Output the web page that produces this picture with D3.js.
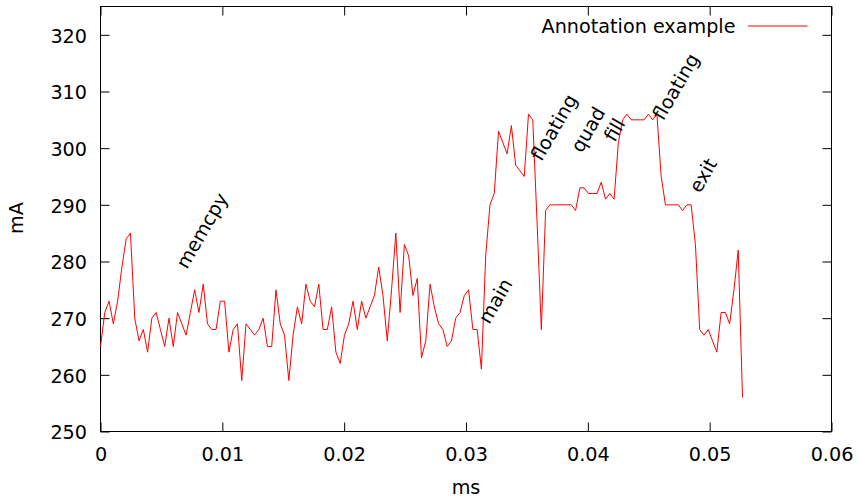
<!DOCTYPE html>
<html>
<head>
<meta charset="utf-8">
<script src="https://cdn.jsdelivr.net/npm/d3@7"></script>
<style>
  html, body { margin: 0; padding: 0; background: #fff; }
  text { font-family: "DejaVu Sans", sans-serif; fill: #000; }
</style>
</head>
<body>
<svg id="chart" width="859" height="500"></svg>
<script>
// ---- Data ----
const SAMPLE_PERIOD_MS = 0.0003513;   // regular sampling interval (ms)
const currentMA = [
  265, 271, 273, 269, 273, 279, 284, 285, 270, 266,
  268, 264, 270, 271, 268, 265, 270, 265, 271, 269,
  267, 271, 275, 271, 276, 269, 268, 268, 273, 273,
  264, 268, 269, 259, 269, 268, 267, 268, 270, 265,
  265, 275, 269, 267, 259, 267, 272, 269, 276, 273,
  272, 276, 268, 268, 272, 264, 262, 267, 269, 273,
  268, 273, 270, 272, 274, 279, 274, 266, 275, 285,
  271, 283, 281, 274, 277, 263, 266, 276, 272, 269,
  268, 265, 266, 270, 271, 274, 275, 268, 268, 261,
  281, 290, 292, 303, 301, 299, 304, 297, 296, 295,
  306, 305, 287, 268, 289, 290, 290, 290, 290, 290,
  290, 289, 293, 293, 292, 292, 292, 294, 291, 292,
  291, 301, 305, 306, 305, 305, 305, 305, 306, 305,
  306, 295, 290, 290, 290, 290, 289, 290, 290, 283,
  268, 267, 268, 266, 264, 271, 271, 269, 275, 282,
  256
];
const annotationText = ["memcpy", "main", "floating", "quad", "fill", "floating", "exit"];
const annotationX    = [0.0071, 0.0319, 0.0362, 0.0395, 0.0422, 0.0462, 0.0492];
const annotationY    = [278.5, 268.8, 297.5, 299.0, 300.9, 304.7, 291.9];
const xTicks = [0, 0.01, 0.02, 0.03, 0.04, 0.05, 0.06];
const yTicks = [250, 260, 270, 280, 290, 300, 310, 320];
const seriesName = "Annotation example";

// ---- Layout ----
const svg = d3.select("#chart");
const plotL = 100.5, plotR = 831.5, plotT = 6.5, plotB = 431.5;
const x = d3.scaleLinear().domain([0, 0.06]).range([plotL, plotR]);
const y = d3.scaleLinear().domain([250, 325]).range([plotB, plotT]);
const FS = 19.2;
const tickLen = 9;

const points = currentMA.map((v, i) => [i * SAMPLE_PERIOD_MS, v]);

// axes (gnuplot style: inward ticks, mirrored)
const fmtX = d => d === 0 ? "0" : d3.format(".2f")(d);
const axB = svg.append("g").attr("transform", `translate(0,${plotB})`)
  .call(d3.axisBottom(x).tickValues(xTicks).tickSizeInner(-tickLen).tickSizeOuter(0).tickPadding(0).tickFormat(fmtX));
const axT = svg.append("g").attr("transform", `translate(0,${plotT})`)
  .call(d3.axisTop(x).tickValues(xTicks).tickSizeInner(-tickLen).tickSizeOuter(0).tickFormat(""));
const axL = svg.append("g").attr("transform", `translate(${plotL},0)`)
  .call(d3.axisLeft(y).tickValues(yTicks).tickSizeInner(-tickLen).tickSizeOuter(0).tickPadding(0).tickFormat(d3.format("d")));
const axR = svg.append("g").attr("transform", `translate(${plotR},0)`)
  .call(d3.axisRight(y).tickValues(yTicks).tickSizeInner(-tickLen).tickSizeOuter(0).tickFormat(""));

[axB, axT, axL, axR].forEach(g => {
  g.select(".domain").remove();
  g.selectAll(".tick line").attr("stroke", "#000").attr("stroke-width", 1);
  g.selectAll("text").attr("font-size", FS).attr("font-family", "DejaVu Sans").attr("fill", "#000");
});
axB.selectAll(".tick text").attr("dy", null).attr("y", 29.8);
axL.selectAll(".tick text").attr("dy", null).attr("x", -13.5).attr("y", 7.2);

// frame
svg.append("rect").attr("x", plotL).attr("y", plotT)
  .attr("width", plotR - plotL).attr("height", plotB - plotT)
  .attr("fill", "none").attr("stroke", "#000").attr("stroke-width", 1);

// axis titles
svg.append("text").attr("x", 466).attr("y", 494).attr("text-anchor", "middle")
  .attr("font-size", FS).text("ms");
svg.append("text").attr("transform", "translate(23.3,218) rotate(-90)")
  .attr("text-anchor", "middle").attr("font-size", FS).text("mA");

// data line
const line = d3.line().x(d => x(d[0])).y(d => y(d[1]));
svg.append("path").datum(points).attr("d", line)
  .attr("fill", "none").attr("stroke", "#ff0000").attr("stroke-width", 1);

// annotations
annotationText.forEach((t, i) => {
  svg.append("text")
    .attr("transform", `translate(${x(annotationX[i])},${y(annotationY[i])}) rotate(-60)`)
    .attr("font-size", FS).text(t);
});

// legend
svg.append("text").attr("x", 735.5).attr("y", 32.5).attr("text-anchor", "end")
  .attr("font-size", FS).text(seriesName);
svg.append("line").attr("x1", 748).attr("x2", 807.5).attr("y1", 26).attr("y2", 26)
  .attr("stroke", "#ff0000").attr("stroke-width", 1);
</script>
</body>
</html>
